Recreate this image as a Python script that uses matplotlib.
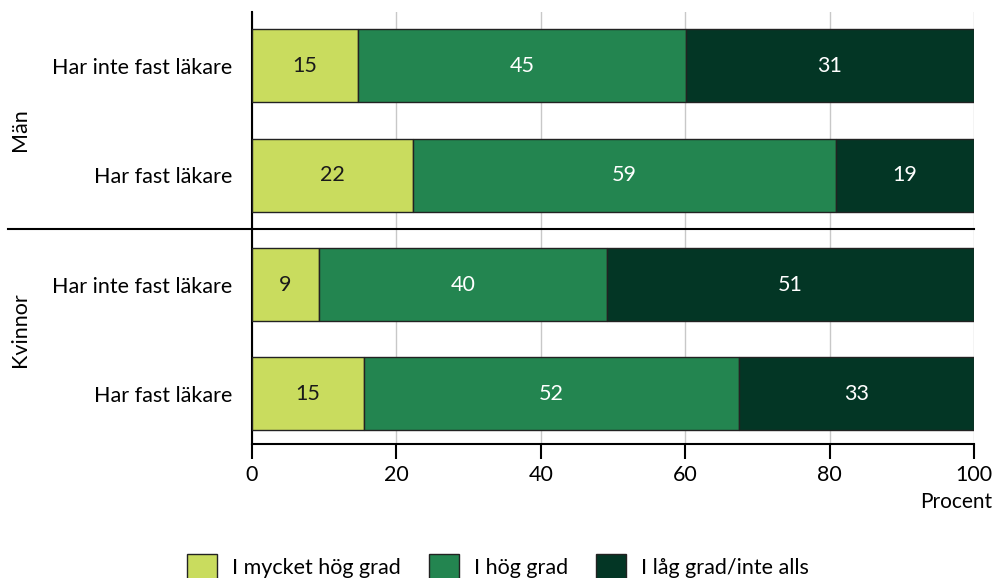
import numpy as np
import matplotlib
matplotlib.use("Agg")
import matplotlib.pyplot as plt
from matplotlib.lines import Line2D

plt.rcParams['font.family'] = ['Lato', 'DejaVu Sans']

# rows from top to bottom
rows = ["Har inte fast läkare", "Har fast läkare", "Har inte fast läkare", "Har fast läkare"]
groups = ["Män", "Kvinnor"]
series = ["I mycket hög grad", "I hög grad", "I låg grad/inte alls"]
colors = ["#c9dc5e", "#238550", "#033625"]
text_colors = ["#1a1a1a", "white", "white"]

# segment widths as drawn
mycket_hog = [14.7, 22.3, 9.3, 15.5]
hog = [45.4, 58.6, 39.9, 52.0]
lag = [39.9, 19.1, 50.8, 32.5]
# printed labels
lab_mycket_hog = [15, 22, 9, 15]
lab_hog = [45, 59, 40, 52]
lab_lag = [31, 19, 51, 33]

fig = plt.figure(figsize=(9.96, 5.78), dpi=100)
ax = fig.add_axes([252/996, 1-444/578, (974-252)/996, (444-12)/578])

y = np.arange(len(rows))[::-1]
vals = [mycket_hog, hog, lag]
labs = [lab_mycket_hog, lab_hog, lab_lag]
left = np.zeros(len(rows))
for i in range(3):
    w = np.array(vals[i])
    ax.barh(y, w, left=left, height=0.667, color=colors[i], edgecolor="#222222",
            linewidth=1, label=series[i], zorder=3)
    for yy, l, ww, t in zip(y, left, w, labs[i]):
        ax.text(l + ww/2, yy, str(t), ha="center", va="center", fontsize=15.5,
                color=text_colors[i], zorder=4)
    left += w

ax.set_xlim(0, 100)
ax.set_ylim(-0.457, 3.49)
ax.set_xticks([0, 20, 40, 60, 80, 100])
ax.set_yticks(y)
ax.set_yticklabels(rows, fontsize=15.5)
ax.tick_params(axis="y", length=0, pad=14)
ax.tick_params(axis="x", length=11, width=1.5, labelsize=15.5, pad=4, direction="out")
ax.grid(axis="x", color="#c8c8c8", linewidth=1, zorder=0)
for s in ["top", "right"]:
    ax.spines[s].set_visible(False)
ax.spines["left"].set_linewidth(1.5)
ax.spines["bottom"].set_linewidth(1.5)

fig.text(992/996, 1-502/578, "Procent", ha="right", va="center", fontsize=15)

# group separator and labels
fig.add_artist(Line2D([8/996, 974/996], [1-229/578, 1-229/578], color="black", linewidth=1.5))
fig.text(20/996, 1-130/578, groups[0], rotation=90, ha="center", va="center", fontsize=15.5)
fig.text(20/996, 1-330/578, groups[1], rotation=90, ha="center", va="center", fontsize=15.5)

fig.legend(loc="lower center", bbox_to_anchor=(0.5, -0.005), ncol=3, frameon=False,
           fontsize=15.5, handlelength=1.4, handleheight=1.55, handletextpad=0.7,
           columnspacing=1.3, borderaxespad=0, borderpad=0)

fig.savefig("out.png", dpi=100)
